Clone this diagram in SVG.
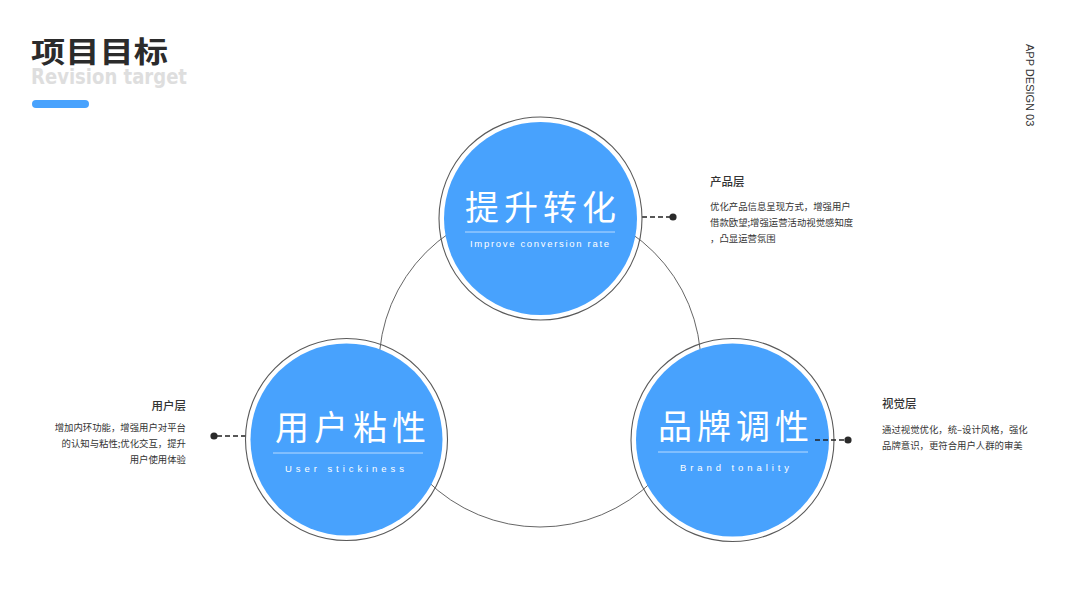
<svg xmlns="http://www.w3.org/2000/svg" width="1067" height="600" viewBox="0 0 1067 600">
<style>
.ring{fill:none;stroke:#5a5a5a;stroke-width:1.1}
.blue{fill:#48A2FD}
.big{font-family:"Noto Sans CJK SC","Noto Sans",sans-serif;font-size:34px;fill:#fff;letter-spacing:5px}
.sub{font-family:"Liberation Sans",Arial,sans-serif;font-size:9.5px;fill:#fff}
.rule{stroke:#b9dbff;stroke-width:1}
.dash{stroke:#222;stroke-width:1.6;stroke-dasharray:5 3;fill:none}
.dot{fill:#2a2a2a}
.h{font-family:"Noto Sans CJK SC","Noto Sans",sans-serif;font-size:11.5px;font-weight:500;fill:#333}
.p{font-family:"Noto Sans CJK SC","Noto Sans",sans-serif;font-size:9.4px;fill:#333}
</style>
<rect width="1067" height="600" fill="#fff"/>
<g id="title">
<text x="31" y="84" textLength="156" lengthAdjust="spacingAndGlyphs" font-family="DejaVu Sans Condensed, Liberation Sans Narrow, Liberation Sans, sans-serif" font-weight="bold" font-size="22" fill="#dedede">Revision target</text>
<text x="31" y="63" textLength="137" lengthAdjust="spacingAndGlyphs" font-family="Noto Sans CJK SC, sans-serif" font-weight="bold" font-size="29" fill="#2b2b2b">项目目标</text>
<rect x="32" y="100" width="57" height="8" rx="4" fill="#48A2FD"/>
</g>
<g id="side-label">
<text transform="translate(1026,44) rotate(90)" font-family="Liberation Sans, Arial, sans-serif" font-size="11" fill="#333">APP DESIGN 03</text>
</g>
<g id="connectors">
<circle cx="540" cy="366" r="161" fill="none" stroke="#555" stroke-width="0.9"/>
<line class="dash" x1="642" y1="217" x2="672" y2="217"/>
<circle class="dot" cx="673" cy="217" r="3.6"/>
<line class="dash" x1="217" y1="436" x2="248" y2="436"/>
<circle class="dot" cx="214" cy="436" r="3.6"/>
<circle class="dot" cx="848" cy="440" r="3.6"/>
</g>
<g id="node-top">
<circle cx="540.5" cy="218.5" r="101.5" fill="#fff" class="ring"/>
<circle class="blue" cx="540.5" cy="218.5" r="96.5"/>
<text class="big" x="465" y="220">提升转化</text>
<line class="rule" x1="465" y1="232" x2="615" y2="232"/>
<text class="sub" x="470" y="247" textLength="139" lengthAdjust="spacing">Improve conversion rate</text>
</g>
<g id="node-left">
<circle cx="346.5" cy="439.5" r="101" fill="#fff" class="ring"/>
<circle class="blue" cx="346.5" cy="439.5" r="96"/>
<text class="big" x="275" y="440">用户粘性</text>
<line class="rule" x1="273" y1="453" x2="423" y2="453"/>
<text class="sub" x="285" y="472" textLength="119" lengthAdjust="spacing">User stickiness</text>
</g>
<g id="node-right">
<circle cx="732.5" cy="440" r="101.5" fill="#fff" class="ring"/>
<circle class="blue" cx="732.5" cy="440" r="96.5"/>
<text class="big" x="658" y="439">品牌调性</text>
<line class="rule" x1="658" y1="452" x2="808" y2="452"/>
<text class="sub" x="680" y="471" textLength="109" lengthAdjust="spacing">Brand tonality</text>
</g>
<g id="connector-right">
<line class="dash" x1="815" y1="440" x2="846" y2="440"/>
</g>
<g id="text-product">
<text class="h" x="710" y="186">产品层</text>
<text class="p" x="710" y="210">优化产品信息呈现方式，增强用户</text>
<text class="p" x="710" y="226">借款欧望;增强运营活动视觉感知度</text>
<text class="p" x="710" y="242">，凸显运营氛围</text>
</g>
<g id="text-user">
<text class="h" x="186" y="410" text-anchor="end">用户层</text>
<text class="p" x="186" y="431" text-anchor="end">增加内环功能，增强用户对平台</text>
<text class="p" x="186" y="447" text-anchor="end">的认知与粘性;优化交互，提升</text>
<text class="p" x="186" y="463" text-anchor="end">用户使用体验</text>
</g>
<g id="text-visual">
<text class="h" x="882" y="408">视觉层</text>
<text class="p" x="882" y="433">通过视觉优化，统–设计风格，强化</text>
<text class="p" x="882" y="449">品牌意识，更符合用户人群的审美</text>
</g>
</svg>
